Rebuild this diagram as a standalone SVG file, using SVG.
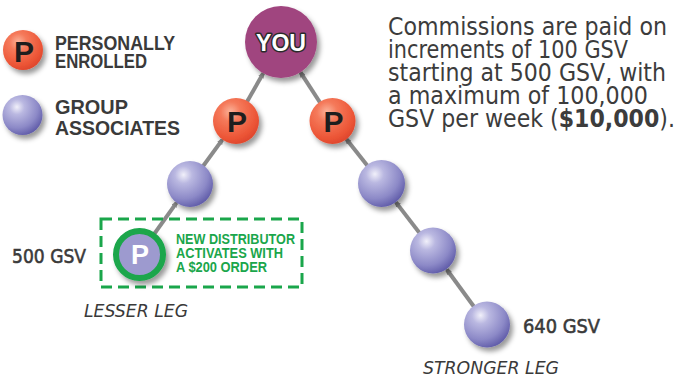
<svg xmlns="http://www.w3.org/2000/svg" width="678" height="379" viewBox="0 0 678 379">
<style>
.bg{fill:#ffffff}
.conn{stroke:#8a8a8a;stroke-width:4;fill:none;marker-start:url(#arr)}
.orange{fill:url(#gOrange);filter:url(#sh)}
.blue{fill:url(#gBlue);filter:url(#sh)}
.you{fill:#a0457f;filter:url(#sh)}
.pl{font-family:"Liberation Sans",Arial,sans-serif;font-weight:bold;font-size:30px;fill:#1e1e1e;text-anchor:middle}
.leg{font-family:"Liberation Sans",Arial,sans-serif;font-weight:bold;font-size:20px;fill:#3a3a3a}
.youtxt{font-family:"Liberation Sans",Arial,sans-serif;font-weight:bold;font-size:23px;fill:#ffffff;stroke:#2a2a2a;stroke-width:3;paint-order:stroke;stroke-linejoin:round;text-anchor:middle}
.body{font-family:"DejaVu Sans",Verdana,sans-serif;font-size:25px;fill:#3c3c3c}
.gsv{font-family:"DejaVu Sans",Verdana,sans-serif;font-size:20px;fill:#3a3a3a;stroke:#3a3a3a;stroke-width:0.6}
.legname{font-family:"DejaVu Sans",Verdana,sans-serif;font-style:italic;font-size:18px;fill:#3a3a3a}
.grn{font-family:"Liberation Sans",Arial,sans-serif;font-weight:bold;font-size:14px;fill:#1aa64b}
.box{fill:none;stroke:#1aa64b;stroke-width:3;stroke-dasharray:11 6}
</style>
<defs>
<radialGradient id="gOrange" cx="0.38" cy="0.3" r="0.72">
<stop offset="0" stop-color="#fbb39a"/>
<stop offset="0.3" stop-color="#f57a5b"/>
<stop offset="0.8" stop-color="#ec5536"/>
<stop offset="1" stop-color="#df472d"/>
</radialGradient>
<radialGradient id="gBlue" cx="0.36" cy="0.3" r="0.75">
<stop offset="0" stop-color="#f1f0fa"/>
<stop offset="0.25" stop-color="#bab8e1"/>
<stop offset="0.7" stop-color="#8c89c7"/>
<stop offset="1" stop-color="#5d59a7"/>
</radialGradient>
<filter id="sh" x="-30%" y="-30%" width="170%" height="170%">
<feDropShadow dx="3" dy="4" stdDeviation="2.5" flood-color="#000" flood-opacity="0.4"/>
</filter>
<marker id="arr" viewBox="0 0 8 8" refX="6" refY="4" markerWidth="6" markerHeight="6" markerUnits="userSpaceOnUse" orient="auto-start-reverse">
<path d="M0,0 L8,4 L0,8 z" fill="#8a8a8a"/>
</marker>
</defs>
<rect class="bg" x="0" y="0" width="678" height="379"/>

<g id="connectors">
<line class="conn" x1="263.2" y1="73.3" x2="236" y2="121"/>
<line class="conn" x1="300.5" y1="72.3" x2="332" y2="121"/>
<line class="conn" x1="222.4" y1="139.6" x2="190" y2="184"/>
<line class="conn" x1="176.6" y1="202.7" x2="139.5" y2="254.5"/>
<line class="conn" x1="346.3" y1="139" x2="381.5" y2="183.5"/>
<line class="conn" x1="395.8" y1="202.1" x2="433" y2="250.5"/>
<line class="conn" x1="446.8" y1="269.5" x2="487" y2="324.5"/>
</g>

<g id="legend-personal">
<circle class="orange" cx="23" cy="50" r="20"/>
<text class="pl" x="24" y="62">P</text>
<text class="leg" x="55" y="50" textLength="120" lengthAdjust="spacingAndGlyphs">PERSONALLY</text>
<text class="leg" x="55" y="68" textLength="92" lengthAdjust="spacingAndGlyphs">ENROLLED</text>
</g>
<g id="legend-group">
<circle class="blue" cx="22.5" cy="115" r="20"/>
<text class="leg" x="55" y="114" textLength="73" lengthAdjust="spacingAndGlyphs">GROUP</text>
<text class="leg" x="55" y="135" textLength="125" lengthAdjust="spacingAndGlyphs">ASSOCIATES</text>
</g>

<g id="node-you">
<circle class="you" cx="281" cy="42" r="36"/>
<text class="youtxt" x="281" y="51" textLength="50" lengthAdjust="spacingAndGlyphs">YOU</text>
</g>
<g id="node-p-left">
<circle class="orange" cx="236" cy="121" r="23"/>
<text class="pl" x="237" y="132">P</text>
</g>
<g id="node-p-right">
<circle class="orange" cx="332.5" cy="121" r="23"/>
<text class="pl" x="333.5" y="132">P</text>
</g>
<g id="node-left-1">
<circle class="blue" cx="190" cy="184" r="23"/>
</g>
<g id="node-new">
<rect class="box" x="101" y="219" width="201" height="68"/>
<circle cx="139.5" cy="254.5" r="23.5" fill="#9d9acf" stroke="#1aa64b" stroke-width="6" filter="url(#sh)"/>
<text x="140" y="264" font-family="Liberation Sans, Arial, sans-serif" font-weight="bold" font-size="27" fill="#ffffff" text-anchor="middle">P</text>
<text class="grn" x="176" y="244" textLength="119" lengthAdjust="spacingAndGlyphs">NEW DISTRIBUTOR</text>
<text class="grn" x="176" y="258" textLength="107" lengthAdjust="spacingAndGlyphs">ACTIVATES WITH</text>
<text class="grn" x="176" y="272" textLength="91" lengthAdjust="spacingAndGlyphs">A $200 ORDER</text>
<text class="gsv" x="12" y="263" textLength="74" lengthAdjust="spacingAndGlyphs">500 GSV</text>
<text class="legname" x="84" y="317" textLength="104" lengthAdjust="spacingAndGlyphs">LESSER LEG</text>
</g>
<g id="node-right-1">
<circle class="blue" cx="381.5" cy="183.5" r="23.5"/>
</g>
<g id="node-right-2">
<circle class="blue" cx="433" cy="250.5" r="23"/>
</g>
<g id="node-right-3">
<circle class="blue" cx="487" cy="324.5" r="23"/>
<text class="gsv" x="523" y="333" textLength="77" lengthAdjust="spacingAndGlyphs">640 GSV</text>
<text class="legname" x="423" y="374" textLength="136" lengthAdjust="spacingAndGlyphs">STRONGER LEG</text>
</g>

<g id="note">
<text class="body" x="388" y="35" textLength="279" lengthAdjust="spacingAndGlyphs">Commissions are paid on</text>
<text class="body" x="388" y="58" textLength="240" lengthAdjust="spacingAndGlyphs">increments of 100 GSV</text>
<text class="body" x="388" y="81" textLength="278" lengthAdjust="spacingAndGlyphs">starting at 500 GSV, with</text>
<text class="body" x="388" y="104" textLength="260" lengthAdjust="spacingAndGlyphs">a maximum of 100,000</text>
<text class="body" x="388" y="127" textLength="287" lengthAdjust="spacingAndGlyphs">GSV per week (<tspan font-weight="bold">$10,000</tspan>).</text>
</g>
</svg>
